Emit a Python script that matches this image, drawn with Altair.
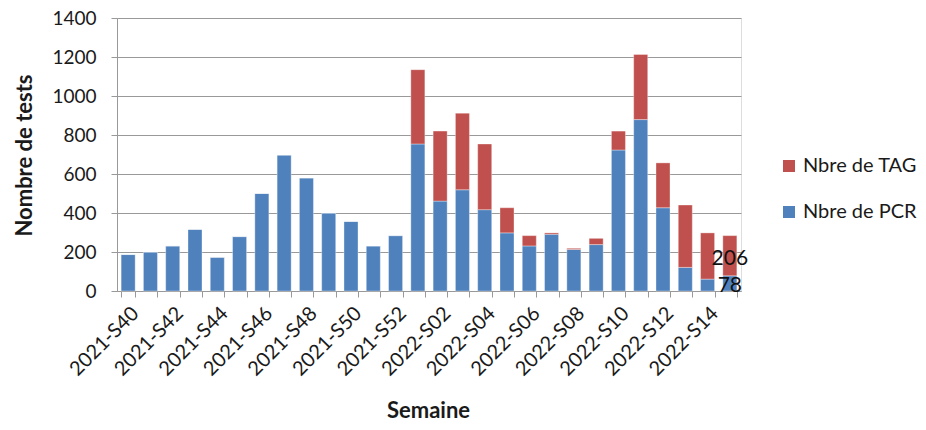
import altair as alt
import pandas as pd
import json

weeks = [f"2021-S{w}" for w in range(40, 53)] + [f"2022-S{w:02d}" for w in range(1, 16)]
pcr = [187, 200, 231, 316, 173, 279, 500, 697, 580, 400, 357, 231, 284,
       754, 461, 519, 417, 298, 231, 291, 213, 238, 723, 879, 427, 121, 61, 78]
tag = [0, 0, 0, 0, 0, 0, 0, 0, 0, 0, 0, 0, 0,
       381, 359, 393, 337, 129, 53, 7, 6, 32, 97, 334, 230, 320, 237, 206]
tick_labels = ["2021-S40", "2021-S42", "2021-S44", "2021-S46", "2021-S48", "2021-S50",
               "2021-S52", "2022-S02", "2022-S04", "2022-S06", "2022-S08", "2022-S10",
               "2022-S12", "2022-S14"]
series = ["Nbre de TAG", "Nbre de PCR"]
colors = ["#C0504D", "#4F81BD"]
labelled_week = "2022-S15"

rows = []
for w, p, t in zip(weeks, pcr, tag):
    rows.append({"week": w, "serie": "Nbre de PCR", "value": p, "ord": 0})
    rows.append({"week": w, "serie": "Nbre de TAG", "value": t, "ord": 1})
df = pd.DataFrame(rows)

i = weeks.index(labelled_week)
lab = pd.DataFrame({
    "week": [labelled_week, labelled_week],
    "value": [pcr[i], tag[i]],
    "mid": [pcr[i] / 2, pcr[i] + tag[i] / 2],
})

FONT = "Lato"
GRID = "#999999"
TXT = "#1a1a1a"

label_expr = "indexof(" + json.dumps(tick_labels).replace('"', "'") + ", datum.value) >= 0 ? datum.value : ''"

x_scale = alt.Scale(domain=weeks, paddingInner=0.37, paddingOuter=0.185)
x_axis = alt.Axis(title="Semaine", labelAngle=-45, labelFontSize=20,
                  labelFont=FONT, labelColor=TXT,
                  labelExpr=label_expr,
                  tickBand="extent", tickSize=6, tickColor=GRID,
                  domainColor=GRID, labelPadding=6, grid=False,
                  titleFont=FONT, titleFontSize=22, titleFontWeight="bold",
                  titleColor=TXT, titleX=311, titleY=126,
                  titleBaseline="alphabetic", titleAlign="center")
y_scale = alt.Scale(domain=[0, 1400])
y_axis = alt.Axis(title="Nombre de tests", values=list(range(0, 1401, 200)),
                  format="d",
                  labelFontSize=19, labelFont=FONT, labelColor=TXT,
                  tickSize=6, tickColor=GRID, domainColor=GRID,
                  gridColor=GRID, labelPadding=15,
                  titleFont=FONT, titleFontSize=22, titleFontWeight="bold",
                  titleColor=TXT, titleX=-93, titleY=137,
                  titleAngle=-90, titleBaseline="middle", titleAlign="center")

bars = alt.Chart(df).mark_bar(stroke="#ffffff", strokeOpacity=0.35, strokeWidth=1).encode(
    x=alt.X("week:N", sort=weeks, scale=x_scale, axis=x_axis),
    y=alt.Y("value:Q", stack="zero", scale=y_scale, axis=y_axis),
    color=alt.Color("serie:N", scale=alt.Scale(domain=series, range=colors),
                    legend=alt.Legend(title=None, orient="none", legendX=662, legendY=138,
                                      symbolType="square", symbolSize=144,
                                      symbolStrokeWidth=0, labelFontSize=20,
                                      labelFont=FONT, labelColor=TXT,
                                      rowPadding=26, labelOffset=4)),
    order=alt.Order("ord:Q", sort="ascending"),
)

labels = alt.Chart(lab).mark_text(fontSize=21, font=FONT, color="#111111",
                                  align="center", baseline="middle", dy=3).encode(
    x=alt.X("week:N", sort=weeks, scale=x_scale, axis=x_axis),
    y=alt.Y("mid:Q", scale=y_scale, axis=y_axis),
    text=alt.Text("value:Q"),
)

chart = alt.layer(bars, labels).properties(
    width=624, height=273,
    autosize=alt.AutoSizeParams(type="none"),
    padding={"left": 109, "top": 10, "right": 177, "bottom": 131},
).configure_view(stroke=None).configure(background="white")

chart.save("out.html", embed_options={"renderer": "svg", "actions": False})
